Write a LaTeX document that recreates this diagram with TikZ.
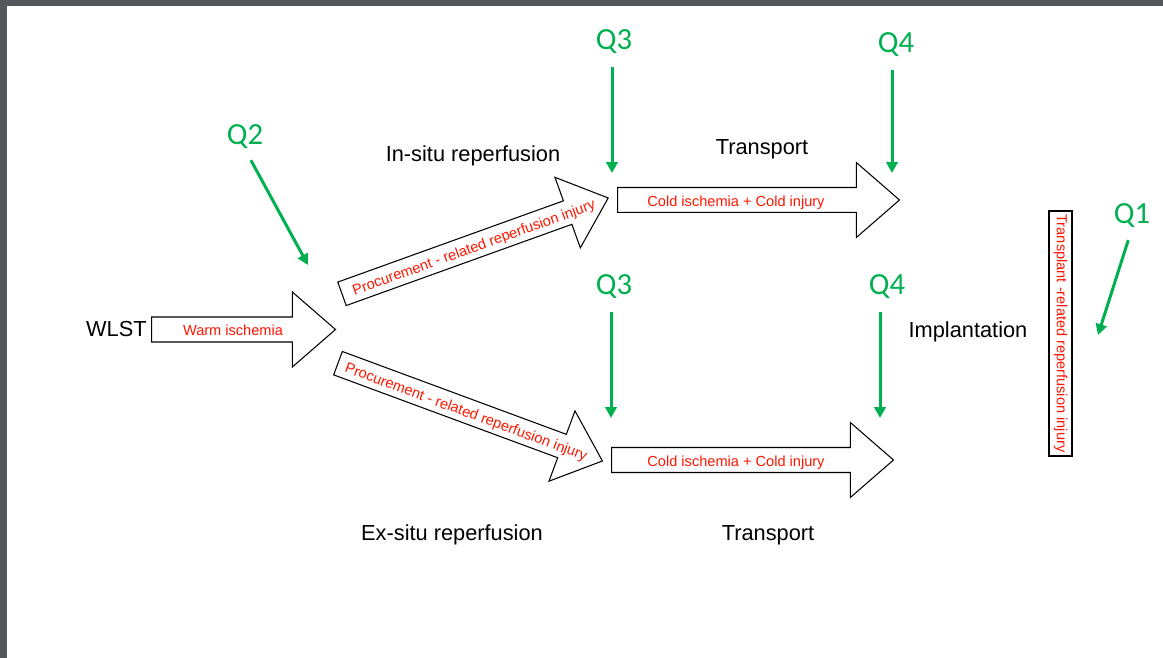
\documentclass[tikz,border=0pt]{standalone}
\usepackage{fontspec}
\setmainfont{Liberation Sans}
\newfontfamily\qfont{Carlito}
\usepackage{xcolor}
\usepackage{tikz}
\usetikzlibrary{shapes.arrows, arrows.meta, positioning}

\definecolor{qgreen}{RGB}{0,176,80}
\definecolor{injred}{RGB}{255,22,0}
\definecolor{framegray}{RGB}{84,88,92}

\begin{document}
\begin{tikzpicture}[x=0.02cm, y=-0.02cm,
    blockarrow/.style={single arrow, draw, line width=0.6pt, anchor=tail,
        single arrow head extend=0.5cm, single arrow tip angle=82,
        minimum width=0pt, inner xsep=0pt, inner ysep=2.9pt,
        text height=6pt, text depth=1.8pt},
    injury/.style={inner sep=0pt, text height=7.2pt, text depth=0.6pt,
        text=injred, font=\fontsize{8.3}{10}\selectfont},
    stage/.style={anchor=base, inner sep=0pt, font=\fontsize{12.4}{15}\selectfont},
    qlabel/.style={anchor=base, inner sep=0pt, text=qgreen, font=\qfont\fontsize{17.5}{20}\selectfont},
    qarrow/.style={draw=qgreen, line width=1.7pt, -{Triangle[length=6.2pt,width=6.4pt]}, shorten <=7pt}]
    \useasboundingbox (0,0) rectangle (1163,658);
    \fill[framegray] (0,0) rectangle (1163,6);
    \fill[framegray] (0,0) rectangle (7,658);

    % block arrows
    \node[blockarrow, minimum height=3.68cm] (warm) at (151,329.5) {};
    \node[blockarrow, minimum height=5.66cm, rotate=19.8] (insitu) at (341.5,294) {};
    \node[blockarrow, minimum height=5.64cm, rotate=-20.3] (exsitu) at (337.5,363) {};
    \node[blockarrow, minimum height=5.64cm] (coldup) at (617,200) {};
    \node[blockarrow, minimum height=5.64cm] (colddown) at (611,460) {};
    \node[draw, line width=0.6pt, rotate=-90, minimum width=4.9cm, minimum height=0.46cm, inner sep=1pt,
        text height=6pt, text depth=1.8pt, text=injred, font=\fontsize{8.3}{10}\selectfont] (tri) at (1060.5,333.5) {Transplant -related reperfusion injury};

    % injury texts on the arrows
    \node[injury] (warmtxt) at (233,330) {Warm ischemia};
    \node[injury, rotate=19.8] (insitutxt) at (473.5,246.5) {Procurement - related reperfusion injury};
    \node[injury, rotate=-20.3] (exsitutxt) at (466.5,411) {Procurement - related reperfusion injury};
    \node[injury] (coldtxtup) at (736,200.5) {Cold ischemia + Cold injury};
    \node[injury] (coldtxtdown) at (736,461) {Cold ischemia + Cold injury};

    % stage names
    \node[stage, anchor=base east] (wlst) at (147,337) {WLST};
    \node[stage] (insitulbl) at (473,161.5) {In-situ reperfusion};
    \node[stage] (transup) at (762,155) {Transport};
    \node[stage] (exsitulbl) at (452,540) {Ex-situ reperfusion};
    \node[stage] (transdown) at (768,540) {Transport};
    \node[stage] (implant) at (968,338) {Implantation};

    % questions
    \node[qlabel] (q1) at (1132,224) {Q1};
    \node[qlabel] (q2) at (245,145) {Q2};
    \node[qlabel] (q3up) at (614,50) {Q3};
    \node[qlabel] (q4up) at (896,53) {Q4};
    \node[qlabel] (q3down) at (614,295) {Q3};
    \node[qlabel] (q4down) at (887,295) {Q4};
    \coordinate (q1tip) at (1098,335);
    \coordinate (q2tip) at (308,265);
    \coordinate (q3uptip) at (612,173);
    \coordinate (q4uptip) at (892,173);
    \coordinate (q3downtip) at (611,418);
    \coordinate (q4downtip) at (880,418);

    \draw[qarrow] (q1.south) -- (q1tip);
    \draw[qarrow] (q2.south) -- (q2tip);
    \draw[qarrow] (q3up.south -| q3uptip) -- (q3uptip);
    \draw[qarrow] (q4up.south -| q4uptip) -- (q4uptip);
    \draw[qarrow] (q3down.south -| q3downtip) -- (q3downtip);
    \draw[qarrow] (q4down.south -| q4downtip) -- (q4downtip);
\end{tikzpicture}
\end{document}
